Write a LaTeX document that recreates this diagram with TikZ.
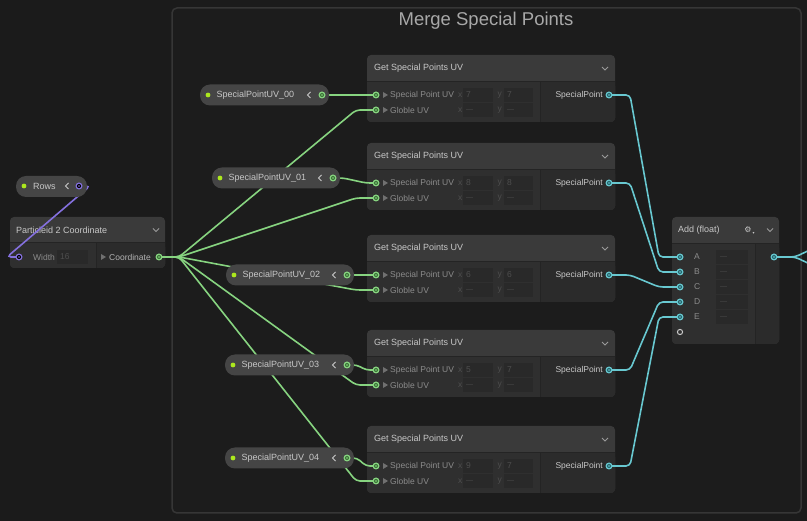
\documentclass[tikz,border=0pt]{standalone}
\usepackage{fontspec}
\setmainfont{Liberation Sans}
\newfontfamily\symfont{DejaVu Sans}
\usetikzlibrary{calc}
\definecolor{bgc}{HTML}{1B1B1B}
\definecolor{grpfill}{HTML}{1C1C1C}
\definecolor{grpborder}{HTML}{363636}
\definecolor{grptxt}{HTML}{A8A8A8}
\definecolor{hdr}{HTML}{3A3A3A}
\definecolor{bodyl}{HTML}{2F2F2F}
\definecolor{bodyr}{HTML}{2B2B2B}
\definecolor{sepc}{HTML}{242424}
\definecolor{pillc}{HTML}{454545}
\definecolor{fieldc}{HTML}{292929}
\definecolor{txt}{HTML}{C8C8C8}
\definecolor{dimtxt}{HTML}{8C8C8C}
\definecolor{faint}{HTML}{4E4E4E}
\definecolor{chev}{HTML}{9A9A9A}
\definecolor{wgreen}{RGB}{135,212,128}
\definecolor{gin}{RGB}{62,118,58}
\definecolor{wcyan}{RGB}{104,200,208}
\definecolor{cin}{RGB}{40,105,112}
\definecolor{wpurple}{RGB}{132,112,222}
\definecolor{pin}{RGB}{70,58,130}
\definecolor{lime}{RGB}{172,232,30}
\tikzset{
  wire/.style={line width=1.6pt, rounded corners=4pt},
  gw/.style={wire, draw=wgreen},
  cw/.style={wire, draw=wcyan},
  pw/.style={wire, draw=wpurple},
  ttl/.style={inner sep=0pt, anchor=west, text=txt, font=\fontsize{9}{10}\selectfont},
  lbl/.style={inner sep=0pt, anchor=west, text=dimtxt, font=\fontsize{8.5}{10}\selectfont},
  olbl/.style={inner sep=0pt, anchor=east, text=txt, font=\fontsize{8.5}{10}\selectfont},
  fnt/.style={inner sep=0pt, anchor=west, text=faint, font=\fontsize{8.5}{10}\selectfont},
  chevline/.style={draw=chev, line width=0.8pt},
}
\newcommand\nodebox[6]{%
  \fill[hdr, rounded corners=4pt] (#1,#2) rectangle (#3,#5);
  \fill[bodyl, rounded corners=4pt] (#1,#4) rectangle (#3,#5);
  \fill[bodyl] (#1,#4) rectangle (#3,#4+6);
  \fill[bodyr, rounded corners=4pt] (#6,#4) rectangle (#3,#5);
  \fill[bodyr] (#6,#4) rectangle (#3,#4+6);
  \fill[bodyr] (#6,#4) rectangle (#6+6,#5);
  \draw[sepc, line width=1pt] (#1,#4) -- (#3,#4);
  \draw[sepc, line width=1pt] (#6,#4) -- (#6,#5);
}
\newcommand\hchev[2]{\draw[chevline] (#1-3,#2-1.5) -- (#1,#2+1.5) -- (#1+3,#2-1.5);}
\newcommand\lchev[2]{\draw[chevline, draw=txt] (#1+1.5,#2-3) -- (#1-1.5,#2) -- (#1+1.5,#2+3);}
\newcommand\tri[2]{\fill[dimtxt!80!black] (#1,#2-3) -- (#1+5,#2) -- (#1,#2+3) -- cycle;}
\newcommand\gport[1]{\fill[wgreen] (#1) circle (3.5pt); \fill[gin] (#1) circle (2.1pt); \fill[wgreen] (#1) circle (0.8pt);}
\newcommand\cport[1]{\fill[wcyan] (#1) circle (3.5pt); \fill[cin] (#1) circle (2.1pt); \fill[wcyan] (#1) circle (0.8pt);}
\newcommand\pport[1]{\fill[wpurple] (#1) circle (3.5pt); \fill[pin] (#1) circle (2.1pt); \fill[wpurple] (#1) circle (0.8pt);}
\begin{document}
\begin{tikzpicture}[x=1pt,y=-1pt]
\useasboundingbox (0,0) rectangle (807,521);
\fill[bgc] (0,0) rectangle (807,521);
% group
\draw[grpborder, line width=1.5pt, fill=grpfill, rounded corners=5pt] (172,8) rectangle (801,513);
\node[font=\fontsize{18.5}{20}\selectfont, text=grptxt, inner sep=0pt] (gtitle) at (486,21) {Merge Special Points};

% coordinates of ports
\coordinate (rowsout) at (79,186);
\coordinate (pcin) at (19,257);
\coordinate (pcout) at (159,257);
\foreach \i/\px/\yc in {0/322/95,1/333/178,2/347/275,3/347/365,4/347/458}
  \coordinate (sp\i) at (\px,\yc);
\foreach \i/\t in {0/55,1/143,2/235,3/330,4/426} {
  \coordinate (ga\i) at (376,\t+40);
  \coordinate (gb\i) at (376,\t+55);
  \coordinate (go\i) at (609,\t+40);
}
\foreach \k in {0,...,4} \coordinate (addin\k) at (680,257+15*\k);
\coordinate (addnew) at (680,332);
\coordinate (addout) at (774,257);
\coordinate (offa) at (812,249);
\coordinate (offb) at (812,265);

% Particleid 2 Coordinate node
\nodebox{10}{217}{165}{243}{268}{96}
\node[ttl] (pctitle) at (16,230) {Particleid 2 Coordinate};
\hchev{156}{230}
\node[lbl] (pcwidth) at (33,257) {Width};
\fill[fieldc] (57,250) rectangle (88,264);
\node[fnt] (pcval) at (60,257) {16};
\tri{101}{257}
\node[ttl, text=txt!90!black, font=\fontsize{8.5}{10}\selectfont] (pccoord) at (109,257) {Coordinate};

% Get Special Points UV nodes
\foreach \i/\t/\vx/\vy in {0/55/7/7,1/143/8/8,2/235/6/6,3/330/5/7,4/426/9/7} {
  \nodebox{367}{\t}{615}{\t+27}{\t+67}{540}
  \node[ttl] (gt\i) at (374,\t+13.5) {Get Special Points UV};
  \hchev{605}{\t+13.5}
  \tri{383}{\t+40}
  \tri{383}{\t+55}
  \node[lbl] (gla\i) at (390,\t+40) {Special Point UV};
  \node[lbl] (glb\i) at (390,\t+55) {Globle UV};
  \fill[fieldc] (463,\t+33) rectangle (493,\t+47);
  \fill[fieldc] (504,\t+33) rectangle (533,\t+47);
  \fill[fieldc] (463,\t+48.5) rectangle (493,\t+62);
  \fill[fieldc] (504,\t+48.5) rectangle (533,\t+62);
  \node[fnt] (gxa\i) at (458,\t+40) {x};
  \node[fnt] (gya\i) at (497.5,\t+40) {y};
  \node[fnt] (gxb\i) at (458,\t+55) {x};
  \node[fnt] (gyb\i) at (497.5,\t+55) {y};
  \node[fnt] (gvx\i) at (466,\t+40) {\vx};
  \node[fnt] (gvy\i) at (507,\t+40) {\vy};
  \node[fnt, font=\fontsize{7}{8}\selectfont] (gdx\i) at (466,\t+55) {—};
  \node[fnt, font=\fontsize{7}{8}\selectfont] (gdy\i) at (507,\t+55) {—};
  \node[olbl] (gol\i) at (603,\t+40) {SpecialPoint};
}

% Add (float) node
\nodebox{672}{217}{779}{244}{344}{755}
\node[ttl] (addtitle) at (678,230) {Add (float)};
\node[inner sep=0pt, text=txt, font=\symfont\fontsize{8}{8}\selectfont] (gear) at (748,229.5) {⚙};
\node[inner sep=0pt, text=txt, font=\symfont\fontsize{4}{4}\selectfont] (gearv) at (753.5,233) {▾};
\hchev{770}{230}
\foreach \k/\L in {0/A,1/B,2/C,3/D,4/E} {
  \fill[fieldc] (716,250+15*\k) rectangle (748,264+15*\k);
  \node[lbl] (addl\k) at (694,257+15*\k) {\L};
  \node[fnt, font=\fontsize{7}{8}\selectfont] (addv\k) at (720,257+15*\k) {—};
}

% wires
\foreach \i in {0,...,4} {
  \draw[gw] (pcout) -- ++(20,0) -- ($(gb\i)+(-20,0)$) -- (gb\i);
  \draw[gw] (sp\i) -- ++(10,0) -- ($(ga\i)+(-10,0)$) -- (ga\i);
  \draw[cw] (go\i) -- ++(21,0) -- ($(addin\i)+(-21,0)$) -- (addin\i);
}
\draw[cw] (addout) -- ++(21,0) -- (offa);
\draw[cw] (addout) -- ++(21,0) -- (offb);
\draw[pw] (rowsout) -- ++(11,0) -- ($(pcin)+(-12,0)$) -- (pcin);

% pills
\fill[pillc, rounded corners=10pt] (16,176) rectangle (87,197);
\fill[lime] (24,186) circle (2.4pt);
\node[ttl] (rowsl) at (33,186) {Rows};
\lchev{67}{186}
\foreach \i/\l/\r/\yc/\lab in {0/200/329/95/SpecialPointUV\_00,1/212/340/178/SpecialPointUV\_01,2/226/354/275/SpecialPointUV\_02,3/225/354/365/SpecialPointUV\_03,4/225/354/458/SpecialPointUV\_04} {
  \fill[pillc, rounded corners=10pt] (\l,\yc-10.5) rectangle (\r,\yc+10.5);
  \fill[lime] (\l+8,\yc) circle (2.4pt);
  \node[ttl] (spl\i) at (\l+16.5,\yc) {\lab};
  \lchev{\r-20}{\yc}
}

% ports
\pport{rowsout}
\pport{pcin}
\gport{pcout}
\foreach \i in {0,...,4} {
  \gport{sp\i}
  \gport{ga\i}
  \gport{gb\i}
  \cport{go\i}
  \cport{addin\i}
}
\draw[txt, line width=1pt] (addnew) circle (2.6pt);
\cport{addout}
\end{tikzpicture}
\end{document}
